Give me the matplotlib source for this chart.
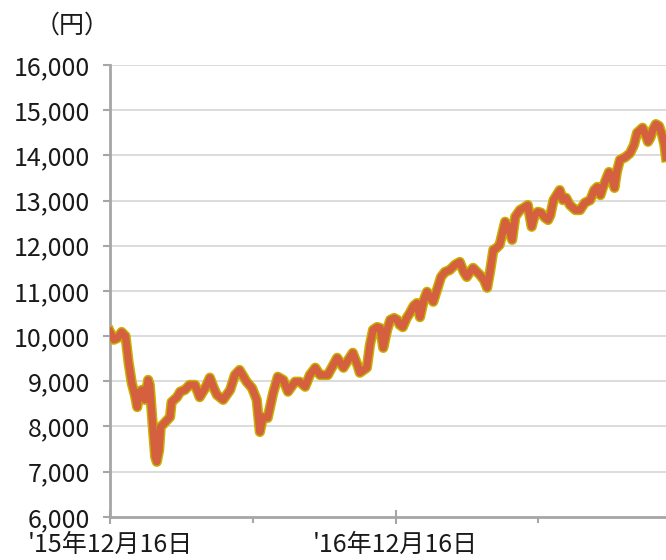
import numpy as np
import pandas as pd
import matplotlib
matplotlib.use("Agg")
import matplotlib.pyplot as plt
import matplotlib.patheffects as pe

plt.rcParams['font.family'] = ['Noto Sans CJK JP', 'DejaVu Sans']

# days elapsed since 2015-12-16 and price (yen)
start = pd.Timestamp('2015-12-16')
days = [0, 5, 10, 15, 20, 24, 28, 32, 35, 37, 41, 45, 49, 51, 55, 58, 60, 63, 65,
        70, 77, 79, 86, 90, 96, 102, 109, 115, 122, 128, 133, 137, 145, 154, 160,
        166, 175, 182, 188, 192, 196, 202, 209, 215, 222, 228, 237, 243, 250, 256,
        263, 269, 279, 286, 291, 299, 305, 311, 317, 320, 325, 329, 333, 337, 342,
        346, 350, 355, 359, 364, 368, 371, 375, 380, 384, 389, 393, 397, 402, 406,
        410, 414, 418, 420, 424, 429, 435, 442, 448, 453, 457, 461, 465, 470, 474,
        479, 483, 487, 491, 495, 499, 502, 506, 510, 515, 519, 525, 530, 535, 540,
        544, 548, 552, 557, 561, 564, 568, 572, 576, 580, 584, 589, 596, 602, 608,
        615, 620, 624, 628, 631, 635, 639, 643, 646, 649, 653, 660, 666, 671, 675,
        679, 682, 686, 689, 692, 695, 699, 703, 707, 710, 712]
price = [10100, 9920, 9960, 10090, 10000, 9410, 8960, 8700, 8430, 8740, 8810, 8590,
         9030, 8920, 7990, 7330, 7220, 7480, 7990, 8080, 8210, 8540, 8650, 8770,
         8810, 8920, 8920, 8650, 8850, 9080, 8850, 8700, 8590, 8810, 9140, 9250,
         8990, 8850, 8590, 7880, 8210, 8190, 8740, 9100, 9030, 8770, 8990, 8990,
         8880, 9140, 9300, 9140, 9140, 9360, 9520, 9300, 9470, 9630, 9360, 9190,
         9250, 9300, 9810, 10140, 10200, 10180, 9740, 10140, 10360, 10400, 10360,
         10250, 10200, 10400, 10510, 10670, 10730, 10420, 10800, 10980, 10850,
         10760, 10980, 11090, 11310, 11420, 11460, 11580, 11640, 11420, 11310,
         11420, 11510, 11420, 11350, 11240, 11070, 11460, 11910, 11950, 12020,
         12240, 12530, 12420, 12130, 12640, 12790, 12840, 12900, 12420, 12680,
         12750, 12730, 12620, 12570, 12680, 13010, 13120, 13230, 13010, 13060,
         12900, 12790, 12790, 12950, 13010, 13230, 13300, 13120, 13280, 13460,
         13630, 13500, 13280, 13630, 13900, 13960, 14050, 14230, 14500, 14560,
         14610, 14450, 14300, 14390, 14560, 14690, 14650, 14450, 14230, 13960]

yticks = [6000, 7000, 8000, 9000, 10000, 11000, 12000, 13000, 14000, 15000, 16000]
xlabels = ["'15年12月16日", "'16年12月16日"]

dates = start + pd.to_timedelta(days, unit='D')

fig = plt.figure(figsize=(6.66, 5.6), dpi=100)
ax = fig.add_axes([0.165, 0.077, 0.835, 0.807])

ax.plot(dates, price, color='#D5603F', lw=5.2, solid_joinstyle='round',
        path_effects=[pe.Stroke(linewidth=7.4, foreground='#C8B000'), pe.Normal()],
        zorder=3)

ax.set_ylim(6000, 16000)
ax.set_yticks(yticks)
ax.set_yticklabels([f'{v:,}' for v in yticks])
ax.set_xlim(start, start + pd.Timedelta(days=712))

major = [start, pd.Timestamp('2016-12-16')]
minor = [pd.Timestamp('2016-06-16'), pd.Timestamp('2017-06-16')]
ax.set_xticks(major)
ax.set_xticklabels(xlabels)
ax.set_xticks(minor, minor=True)

for y in yticks[1:]:
    ax.axhline(y, color='#D9D9D9', lw=1.3, zorder=1)

for s in ['top', 'right']:
    ax.spines[s].set_visible(False)
for s in ['left', 'bottom']:
    ax.spines[s].set_color('#A6A6A6')
    ax.spines[s].set_linewidth(2)

ax.tick_params(axis='y', colors='#A6A6A6', length=5, width=1.5, labelsize=18,
               labelcolor='#1a1a1a', pad=9)
ax.tick_params(axis='x', which='major', colors='#A6A6A6', direction='inout',
               length=10, width=1.5, labelsize=18, labelcolor='#1a1a1a', pad=6)
ax.tick_params(axis='x', which='minor', colors='#A6A6A6', direction='out',
               length=4, width=1.5)

fig.text(0.108, 0.955, '（円）', ha='center', va='center', fontsize=18, color='#1a1a1a')

fig.savefig('out.png', dpi=100)
